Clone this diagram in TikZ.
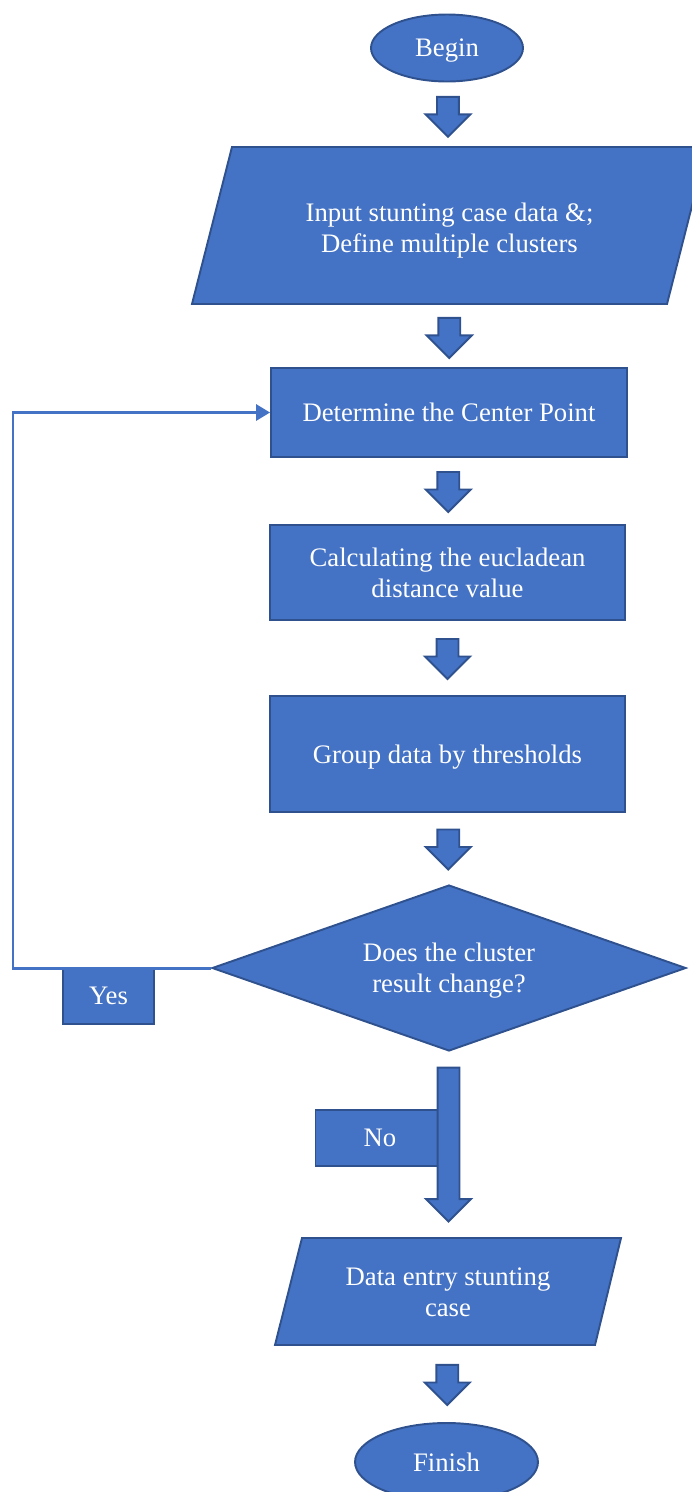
\documentclass[tikz,border=0pt]{standalone}
\usepackage{fontspec}
\setmainfont{Liberation Serif}
\usepackage{tikz}
\usetikzlibrary{shapes.geometric, shapes.arrows, arrows.meta, positioning, calc}
\definecolor{boxfill}{HTML}{4472C4}
\definecolor{boxline}{HTML}{2F528F}
\tikzstyle{base} = [draw=boxline, fill=boxfill, line width=1.1pt, text=white, align=center, inner sep=0pt, text depth=0pt, font=\fontsize{15.2}{17.5}\selectfont]
\tikzstyle{terminal} = [base, ellipse]
\tikzstyle{process} = [base, rectangle]
\tikzstyle{iobox} = [draw=boxline, fill=boxfill, line width=1.1pt]
\tikzstyle{iotext} = [rectangle, text=white, align=center, inner sep=0pt, text depth=0pt, font=\fontsize{15.2}{17.5}\selectfont]
\tikzstyle{decision} = [base, diamond, aspect=2.85]
\tikzstyle{answer} = [base, rectangle, minimum height=1.12cm]
\tikzstyle{blockarrow} = [base, single arrow, shape border rotate=270, inner sep=0.2cm, minimum height=0.8cm, single arrow head extend=0.23cm, single arrow tip angle=90, single arrow head indent=0pt, yshift=0.09cm]
\tikzstyle{loopline} = [draw=boxfill, line width=1.7pt, -{Triangle[length=0.28cm, width=0.32cm]}]

\begin{document}
\begin{tikzpicture}[x=0.02cm, y=-0.02cm]
    \useasboundingbox (0,0) rectangle (691,1492);

    % Parallelogram outlines
    \draw[iobox] (232,147) -- (707,147) -- (667,304) -- (192,304) -- cycle;
    \draw[iobox] (302,1238) -- (621,1238) -- (595,1345) -- (275,1345) -- cycle;

    % Main column
    \node[terminal, minimum width=3.04cm, minimum height=1.34cm] (begin) at (447, 48) {Begin};
    \node[iotext, minimum width=10.3cm, minimum height=3.14cm] (input) at (449.5, 228) {Input stunting case data \&;\\Define multiple clusters};
    \node[process, minimum width=7.12cm, minimum height=1.78cm] (center) at (449, 412.5) {Determine the Center Point};
    \node[process, minimum width=7.1cm, minimum height=1.9cm] (distance) at (447.5, 572.5) {Calculating the eucladean\\distance value};
    \node[process, minimum width=7.1cm, minimum height=2.32cm] (group) at (447.5, 754) {Group data by thresholds};
    \node[decision, minimum width=9.48cm, minimum height=3.32cm] (change) at (449, 968) {Does the cluster\\result change?};
    \node[iotext, minimum width=6.92cm, minimum height=2.14cm] (output) at (448, 1292) {Data entry stunting\\case};
    \node[terminal, minimum width=3.66cm, minimum height=1.56cm] (finish) at (446.5, 1462) {Finish};

    % Block arrows
    \path (begin) -- (input) node[midway, blockarrow] (a1) {};
    \path (input.south) -- (center.north) node[midway, blockarrow] (a2) {};
    \path (center) -- (distance) node[midway, blockarrow] (a3) {};
    \path (distance) -- (group) node[midway, blockarrow] (a4) {};
    \path (group.south) -- (change.north) node[midway, blockarrow] (a5) {};
    \path (output.south) -- (finish.north) node[midway, blockarrow] (a6) {};

    % No branch
    \node[answer, minimum width=2.58cm] (no) at (380, 1138) {No};
    \path (change.south) -- (output.north) node[midway, blockarrow, minimum height=3.08cm, yshift=0.03cm] (a7) {};

    % Yes branch
    \node[answer, minimum width=1.82cm] (yes) at (108.5, 996) {Yes};
    \coordinate (loopleft) at (13, 968);
    \draw[loopline] (change.west) -- (loopleft) |- (center.west);
\end{tikzpicture}
\end{document}
